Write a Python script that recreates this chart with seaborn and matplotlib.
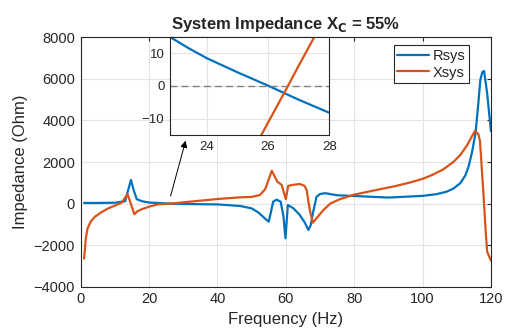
import seaborn as sns
import pandas as pd
import matplotlib.pyplot as plt

# 主图数据 (频率 Hz, 阻抗 Ohm)
r_freq = [1, 5, 10, 12, 13, 14.7, 15.5, 16.4, 18, 20, 26, 30, 40, 46.6, 50, 52,
          54.4, 55, 55.6, 56.3, 57.3, 58.5, 59.3, 59.9, 60.6, 62.2, 64, 65.5,
          66.6, 67.3, 68, 69, 70, 71.5, 75, 80, 90, 100, 104, 107, 109, 111,
          112.5, 113.5, 114.5, 115.5, 116.3, 116.9, 117.5, 118, 118.9, 120]
r_sys = [30, 30, 40, 90, 110, 1135, 650, 210, 110, 50, 0, -20, -40, -115, -230,
         -430, -790, -870, -450, 90, 190, 90, -600, -1670, -70, -225, -530, -900,
         -1270, -1030, -400, 330, 460, 500, 400, 365, 290, 370, 450, 570, 720, 975,
         1350, 1800, 2500, 3400, 4800, 5950, 6330, 6380, 5300, 3480]

x_freq = [1, 1.5, 2, 3, 4.2, 6, 8.1, 10, 12, 13.7, 15.7, 16.5, 17.8, 20, 22.7,
          26.5, 30, 40, 46.6, 50, 52.4, 54, 55.9, 57.5, 58.8, 60, 60.7, 62, 64.1,
          65.5, 66.1, 67, 67.9, 69, 71, 73, 75.8, 80, 87.5, 92, 96, 100, 103, 106,
          109, 111, 113, 114.5, 115.3, 116.3, 116.8, 117.8, 118.5, 118.9, 120]
x_sys = [-2650, -1700, -1200, -850, -630, -420, -226, -100, 45, 460, -515, -380,
         -275, -150, -35, 0, 60, 220, 300, 320, 410, 700, 1580, 1055, 895, 207,
         850, 900, 940, 850, 650, -300, -920, -700, -310, 0, 210, 430, 690, 840,
         1000, 1190, 1390, 1640, 2000, 2330, 2800, 3250, 3490, 3350, 3000, 495,
         -1430, -2310, -2750]

# 局部放大数据
zoom_r_freq = [22.8, 23.4, 24, 25, 26, 27, 28]
zoom_r_sys = [15, 11.6, 8.5, 4.2, 0.1, -4.2, -8.2]
zoom_x_freq = [25.5, 26.0, 26.5, 27.0, 27.8]
zoom_x_sys = [-19.9, -11.2, -2.6, 6.2, 20.0]

series_names = ["Rsys", "Xsys"]
colors = ["#0072BD", "#D95319"]

sns.set_style("whitegrid")
plt.rcParams['font.family'] = ['Liberation Sans', 'DejaVu Sans']
plt.rcParams['axes.edgecolor'] = '#262626'
plt.rcParams['axes.linewidth'] = 0.8
plt.rcParams['grid.color'] = '#e3e3e3'
plt.rcParams['grid.linewidth'] = 0.8
plt.rcParams['text.color'] = '#262626'
plt.rcParams['xtick.color'] = '#262626'
plt.rcParams['ytick.color'] = '#262626'

df = pd.concat([
    pd.DataFrame({"f": r_freq, "z": r_sys, "s": series_names[0]}),
    pd.DataFrame({"f": x_freq, "z": x_sys, "s": series_names[1]}),
])
df_zoom = pd.concat([
    pd.DataFrame({"f": zoom_r_freq, "z": zoom_r_sys, "s": series_names[0]}),
    pd.DataFrame({"f": zoom_x_freq, "z": zoom_x_sys, "s": series_names[1]}),
])

fig = plt.figure(figsize=(5.09, 3.33), dpi=100)
ax = fig.add_axes([0.1585, 0.139, 0.806, 0.749])

sns.lineplot(data=df, x="f", y="z", hue="s", palette=colors, estimator=None,
             linewidth=1.6, ax=ax)
ax.set_xlim(0, 120)
ax.set_ylim(-4000, 8000)
ax.set_xticks(range(0, 121, 20))
ax.set_yticks(range(-4000, 8001, 2000))
ax.tick_params(direction='in', top=True, right=True, length=3, labelsize=10.5, pad=4)
ax.set_xlabel("Frequency (Hz)", fontsize=12)
ax.set_ylabel("Impedance (Ohm)", fontsize=12)
ax.set_title(r"System Impedance X$_\mathbf{C}$ = 55%", fontsize=12,
             fontweight='bold', pad=6)
for s in ax.spines.values():
    s.set_visible(True)

leg = ax.legend(loc='upper right', bbox_to_anchor=(0.946, 0.969), borderaxespad=0,
                fontsize=10.5, frameon=True, fancybox=False, framealpha=1,
                edgecolor='#262626', handlelength=2.2, handletextpad=0.2,
                borderpad=0.25, labelspacing=0.2)
leg.get_frame().set_linewidth(0.8)

ax.annotate("", xy=(30.7, 3025), xytext=(26.3, 365),
            arrowprops=dict(arrowstyle='-|>', color='black', lw=0.7,
                            mutation_scale=10, shrinkA=0, shrinkB=0))

# 局部放大图
axin = fig.add_axes([0.334, 0.5946, 0.313, 0.2944])
axin.set_facecolor('white')
sns.lineplot(data=df_zoom, x="f", y="z", hue="s", palette=colors, estimator=None,
             linewidth=1.6, ax=axin, legend=False)
axin.axhline(0, color='gray', linestyle='--', linewidth=1.0, dashes=(5, 3))
axin.set_xlim(22.8, 28)
axin.set_ylim(-15, 15)
axin.set_xticks([24, 26, 28])
axin.set_yticks([-10, 0, 10])
axin.tick_params(direction='in', top=False, right=False, length=3, labelsize=9.5, pad=4)
axin.set_xlabel("")
axin.set_ylabel("")
for s in axin.spines.values():
    s.set_visible(True)

fig.savefig("out.png", dpi=100)
